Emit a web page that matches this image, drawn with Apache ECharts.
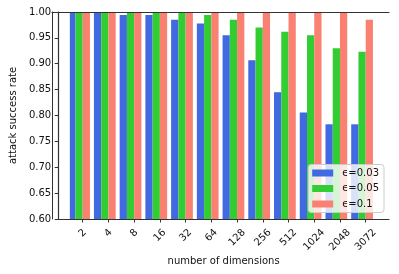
<!DOCTYPE html>
<html><head><meta charset="utf-8">
<script src="https://cdn.jsdelivr.net/npm/echarts@6/dist/echarts.min.js"></script>
<style>html,body{margin:0;padding:0;background:#fff}#c{width:399px;height:274px}</style>
</head><body><div id="c"></div>
<script>
const categories = ['2','4','8','16','32','64','128','256','512','1024','2048','3072'];
const eps003 = [1.0, 1.0, 0.994, 0.994, 0.985, 0.978, 0.955, 0.907, 0.845, 0.806, 0.783, 0.783];
const eps005 = [1.0, 1.0, 1.0, 1.0, 1.0, 0.994, 0.985, 0.970, 0.962, 0.955, 0.930, 0.923];
const eps01  = [1.0, 1.0, 1.0, 1.0, 1.0, 1.0, 1.0, 1.0, 1.0, 1.0, 1.0, 0.985];
const seriesNames = ['ϵ=0.03', 'ϵ=0.05', 'ϵ=0.1'];
const colors = ['#4169E1', '#32CD32', '#FA8072'];

const FONT = 'DejaVu Sans';
const TXT = '#111';
const charW = 6.36;
const rich = {};
[1,2,3,4].forEach(n => {
  const d = (4 - n) * charW / 2;
  rich['n' + n] = {fontFamily: FONT, fontSize: 10, color: TXT, padding: [0, 0, d, d]};
});

const chart = echarts.init(document.getElementById('c'), null, {renderer: 'canvas'});
const bw = 7.25;
const mkBar = (name, data, color) => ({
  type: 'bar', name, data, xAxisIndex: 2, yAxisIndex: 2,
  barWidth: bw, barGap: '0%', itemStyle: {color}, z: 2
});
chart.setOption({
  animation: false,
  textStyle: {fontFamily: FONT},
  grid: [
    {left: 52, right: 10, top: 12, bottom: 55},
    {left: 52, right: 10, top: 12, bottom: 55},
    {left: 69.84, width: 308.73, top: 12, bottom: 55}
  ],
  xAxis: [
    {gridIndex: 0, type: 'value', min: 0, max: 1, position: 'bottom', z: 5,
     axisLine: {show: true, lineStyle: {color: '#333', width: 1.2}},
     axisTick: {show: false}, axisLabel: {show: false}, splitLine: {show: false},
     name: 'number of dimensions', nameLocation: 'middle', nameGap: 37,
     nameTextStyle: {fontFamily: FONT, fontSize: 10, color: TXT}},
    {gridIndex: 1, type: 'value', min: 0, max: 1, position: 'top', z: 5,
     axisLine: {show: true, lineStyle: {color: '#333', width: 1.2}},
     axisTick: {show: false}, axisLabel: {show: false}, splitLine: {show: false}},
    {gridIndex: 2, type: 'category', data: categories, position: 'bottom', z: 5,
     axisLine: {show: false},
     axisTick: {show: true, alignWithLabel: true, length: 3.5, lineStyle: {color: '#333'}},
     axisLabel: {rotate: 45, align: 'center', verticalAlign: 'middle', margin: 21,
       formatter: v => '{n' + v.length + '|' + v + '}', rich: rich,
       fontFamily: FONT, fontSize: 10, color: TXT, interval: 0},
     splitLine: {show: false}}
  ],
  yAxis: [
    {gridIndex: 0, type: 'value', min: 0.6, max: 1.0, interval: 0.05, position: 'left', z: 5,
     axisLine: {show: true, lineStyle: {color: '#333', width: 1.2}},
     axisTick: {show: true, length: 3.5, lineStyle: {color: '#333'}},
     axisLabel: {formatter: v => v.toFixed(2), fontFamily: FONT, fontSize: 10, color: TXT, margin: 7},
     splitLine: {show: false},
     name: 'attack success rate', nameLocation: 'middle', nameGap: 35, nameRotate: 90,
     nameTextStyle: {fontFamily: FONT, fontSize: 10, color: TXT}},
    {gridIndex: 1, type: 'value', min: 0.6, max: 1.0, position: 'right', z: 5,
     axisLine: {show: true, lineStyle: {color: '#333', width: 1}},
     axisTick: {show: false}, axisLabel: {show: false}, splitLine: {show: false}},
    {gridIndex: 2, type: 'value', min: 0.6, max: 1.0, show: false}
  ],
  legend: {
    data: seriesNames, orient: 'vertical', right: 15, bottom: 61.5,
    icon: 'rect', itemWidth: 21, itemHeight: 7, itemGap: 5.5,
    padding: [3.5, 5, 3.5, 4],
    backgroundColor: 'rgba(255,255,255,0.8)', borderColor: '#ccc', borderWidth: 1, borderRadius: 3,
    textStyle: {fontFamily: FONT, fontSize: 10, color: TXT, padding: [0, 0, 0, 4]}
  },
  series: [
    mkBar(seriesNames[0], eps003, colors[0]),
    mkBar(seriesNames[1], eps005, colors[1]),
    mkBar(seriesNames[2], eps01, colors[2]),
    {type: 'bar', name: 'pad', data: [], xAxisIndex: 2, yAxisIndex: 2, barWidth: bw, barGap: '0%'}
  ]
});
</script></body></html>
